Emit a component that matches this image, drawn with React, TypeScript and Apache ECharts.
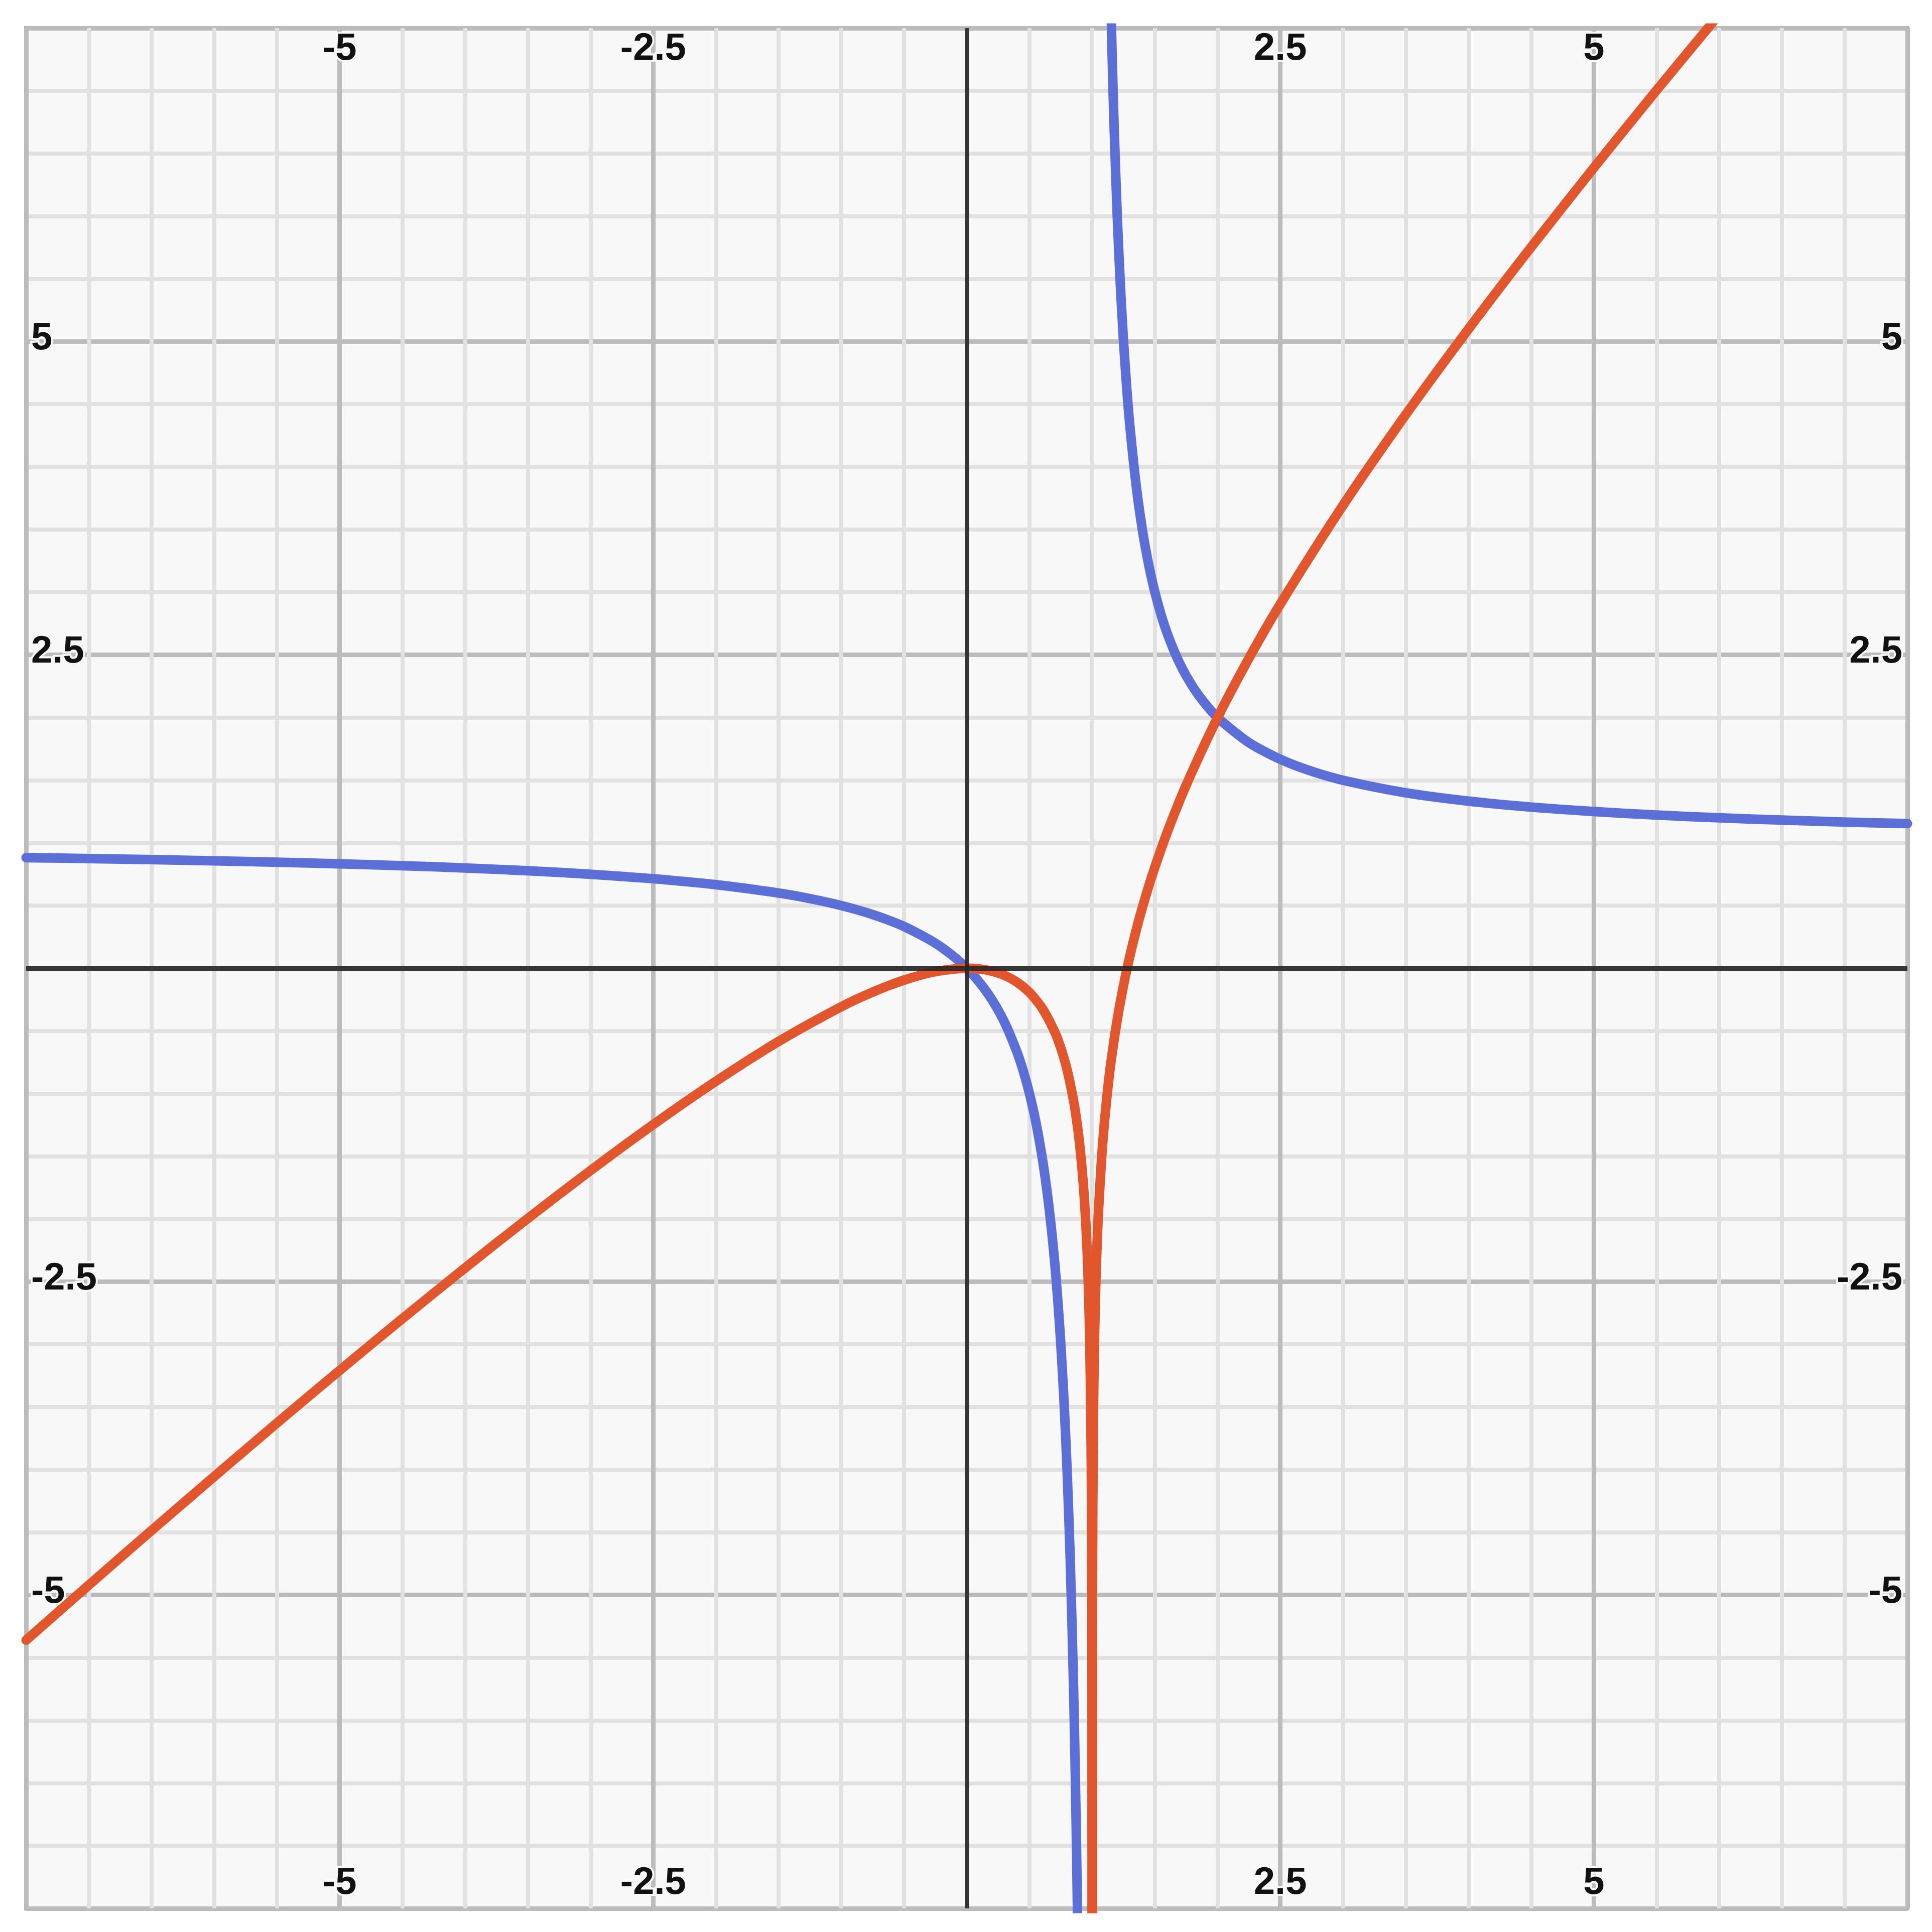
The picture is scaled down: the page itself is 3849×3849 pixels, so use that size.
import React, { useEffect, useRef } from "react";
import * as echarts from "echarts";

// Axis range and tick labels
const axisMin = -7.5;
const axisMax = 7.5;
const majorStep = 2.5;
const xTickLabels = ["-5", "-2.5", "2.5", "5"];
const yTickLabels = ["-5", "-2.5", "2.5", "5"];

// Blue curve, left branch (x < 1)
const blueLeftX = [-7.5, -7, -6.5, -6, -5.5, -5, -4.5, -4, -3.5, -3, -2.5, -2, -1.5, -1.25, -1, -0.75, -0.5, -0.25, -0.1, 0, 0.1, 0.2, 0.3, 0.4, 0.45, 0.5, 0.55, 0.6, 0.625, 0.65, 0.675, 0.7, 0.725, 0.75, 0.775, 0.8, 0.825, 0.85, 0.86, 0.87, 0.88, 0.89];
const blueLeftY = [0.8824, 0.875, 0.8667, 0.8571, 0.8462, 0.8333, 0.8182, 0.8, 0.7778, 0.75, 0.7143, 0.6667, 0.6, 0.5556, 0.5, 0.4286, 0.3333, 0.2, 0.0909, 0, -0.1111, -0.25, -0.4286, -0.6667, -0.8182, -1, -1.2222, -1.5, -1.6667, -1.857, -2.0769, -2.333, -2.6364, -3, -3.4444, -4, -4.714, -5.667, -6.1429, -6.692, -7.3333, -8.09];

// Blue curve, right branch (x > 1)
const blueRightX = [1.13, 1.14, 1.15, 1.16, 1.175, 1.2, 1.225, 1.25, 1.275, 1.3, 1.35, 1.4, 1.45, 1.5, 1.55, 1.6, 1.675, 1.75, 1.85, 2, 2.25, 2.5, 2.75, 3, 3.5, 4, 4.5, 5, 5.5, 6, 6.5, 7, 7.5];
const blueRightY = [8.692, 8.1429, 7.667, 7.25, 6.714, 6, 5.4444, 5, 4.6364, 4.333, 3.8571, 3.5, 3.2222, 3, 2.8182, 2.667, 2.4815, 2.333, 2.1765, 2, 1.8, 1.667, 1.5714, 1.5, 1.4, 1.3333, 1.2857, 1.25, 1.2222, 1.2, 1.1818, 1.1667, 1.1538];

// Red curve, left branch (x < 1)
const redLeftX = [-7.5, -7, -6.5, -6, -5.5, -5, -4.5, -4, -3.5, -3, -2.5, -2, -1.5, -1, -0.75, -0.5, -0.25, 0, 0.1, 0.2, 0.3, 0.4, 0.5, 0.6, 0.7, 0.75, 0.8, 0.85, 0.875, 0.9, 0.93, 0.95, 0.96, 0.97, 0.98, 0.99, 0.995, 0.998, 0.999, 0.9995, 0.9998, 0.9999];
const redLeftY = [-5.3599, -4.9206, -4.4851, -4.0541, -3.6282, -3.2082, -2.7953, -2.3906, -1.9959, -1.6137, -1.2472, -0.9014, -0.5837, -0.3069, -0.1904, -0.0945, -0.0269, 0, -0.0054, -0.0231, -0.0567, -0.1108, -0.1931, -0.3163, -0.504, -0.6363, -0.8094, -1.0471, -1.2044, -1.4026, -1.7293, -2.0457, -2.2589, -2.5366, -2.932, -3.6152, -4.3033, -5.2166, -5.9088, -6.6014, -7.5174, -8.2104];

// Red curve, right branch (x > 1)
const redRightX = [1.0001, 1.0002, 1.0005, 1.001, 1.002, 1.005, 1.01, 1.015, 1.02, 1.03, 1.04, 1.05, 1.075, 1.1, 1.125, 1.15, 1.2, 1.25, 1.3, 1.35, 1.4, 1.45, 1.5, 1.6, 1.75, 2, 2.25, 2.5, 3, 3.5, 4, 4.5, 5, 5.5, 6];
const redRightY = [-8.2102, -7.517, -6.6004, -5.9068, -5.2126, -4.2933, -3.5952, -3.1847, -2.892, -2.4766, -2.1789, -1.9457, -1.5153, -1.2026, -0.9544, -0.7471, -0.4094, -0.1363, 0.096, 0.3002, 0.4837, 0.6515, 0.8069, 1.0892, 1.4623, 2, 2.4731, 2.9055, 3.6931, 4.4163, 5.0986, 5.7528, 6.3863, 7.0041, 7.6094];

const BLUE = "#5b6fd7";
const RED = "#e1562c";

const zip = (xs: number[], ys: number[]) => xs.map((x, i) => [x, ys[i]]);

const labelFont = {
  fontFamily: "Liberation Sans, Arial, sans-serif",
  fontWeight: "bold" as const,
  fontSize: 76,
  color: "#111111",
  textBorderColor: "#f8f8f8",
  textBorderWidth: 8,
};

export default function App() {
  const ref = useRef<HTMLDivElement>(null);

  useEffect(() => {
    if (!ref.current) return;
    const chart = echarts.init(ref.current, undefined, { renderer: "svg" });

    const xFmt = (v: number) => (xTickLabels.includes(String(v)) ? String(v) : "");
    const yFmt = (v: number) => (yTickLabels.includes(String(v)) ? String(v) : "");

    const baseAxis = {
      type: "value" as const,
      min: axisMin,
      max: axisMax,
      interval: majorStep,
      axisTick: { show: false },
      axisLine: { show: false, onZero: false },
    };

    const curve = (data: number[][], color: string) => ({
      type: "line" as const,
      data,
      showSymbol: false,
      smooth: 0.25,
      clip: true,
      silent: true,
      z: 3,
      lineStyle: { color, width: 19, cap: "round" as const, join: "round" as const },
    });

    const yLabel = {
      ...labelFont,
      inside: true,
      margin: 10,
      formatter: yFmt,
      verticalAlign: "bottom" as const,
      lineHeight: 22,
    };

    chart.setOption({
      animation: false,
      backgroundColor: "#ffffff",
      grid: {
        left: 52,
        top: 56,
        right: 49,
        bottom: 47,
        show: true,
        backgroundColor: "#f8f8f8",
        borderColor: "#b2b2b2",
        borderWidth: 8,
        z: 0,
      },
      xAxis: [
        {
          ...baseAxis,
          position: "top",
          axisLabel: { ...labelFont, inside: true, margin: -2, formatter: xFmt, verticalAlign: "top" },
          splitLine: { show: true, lineStyle: { color: "#bcbcbc", width: 9 } },
          minorTick: { show: false, splitNumber: 5 },
          minorSplitLine: { show: true, lineStyle: { color: "#e1e1e1", width: 8 } },
        },
        {
          ...baseAxis,
          position: "bottom",
          axisLabel: { ...labelFont, inside: true, margin: 18, formatter: xFmt, verticalAlign: "bottom" },
          splitLine: { show: false },
        },
      ],
      yAxis: [
        {
          ...baseAxis,
          position: "left",
          axisLabel: yLabel,
          splitLine: { show: true, lineStyle: { color: "#bcbcbc", width: 9 } },
          minorTick: { show: false, splitNumber: 5 },
          minorSplitLine: { show: true, lineStyle: { color: "#e1e1e1", width: 8 } },
        },
        {
          ...baseAxis,
          position: "right",
          axisLabel: yLabel,
          splitLine: { show: false },
        },
      ],
      series: [
        curve(zip(blueLeftX, blueLeftY), BLUE),
        curve(zip(blueRightX, blueRightY), BLUE),
        curve(zip(redLeftX, redLeftY), RED),
        curve(zip(redRightX, redRightY), RED),
        {
          type: "line",
          data: [],
          silent: true,
          z: 4,
          markLine: {
            silent: true,
            symbol: "none",
            label: { show: false },
            lineStyle: { color: "#262626", width: 9, type: "solid", opacity: 0.9 },
            emphasis: { disabled: true },
            data: [{ xAxis: 0 }, { yAxis: 0 }],
          },
        },
      ],
    });

    return () => chart.dispose();
  }, []);

  return (
    <div
      ref={ref}
      style={{ position: "absolute", left: 0, top: 0, width: 3849, height: 3849 }}
    />
  );
}
